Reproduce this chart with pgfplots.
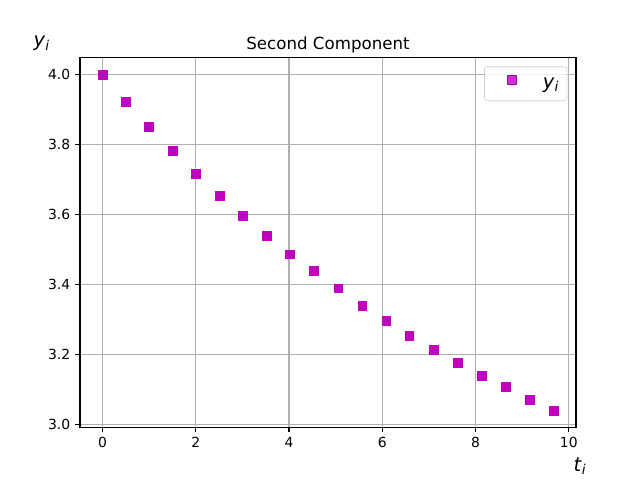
\documentclass[border=0pt]{standalone}
\usepackage{fontspec}
\setmainfont{DejaVu Sans}
\usepackage{pgfplots}
\pgfplotsset{compat=1.18}
\definecolor{mpm}{rgb}{0.75,0,0.75}
\definecolor{gridgray}{HTML}{B0B0B0}
\definecolor{legedge}{HTML}{CCCCCC}
\begin{document}
\begin{tikzpicture}
\path[use as bounding box] (0,0) rectangle (460.8pt,345.6pt);
\begin{axis}[
  at={(57.6pt,38.016pt)}, anchor=south west,
  scale only axis, width=357.12pt, height=266.11pt,
  xmin=-0.4836, xmax=10.155, ymin=2.992, ymax=4.048,
  xtick={0,2,4,6,8,10},
  ytick={3,3.2,3.4,3.6,3.8,4},
  yticklabel style={/pgf/number format/.cd, fixed, fixed zerofill, precision=1},
  /pgf/number format/assume math mode=true,
  tick label style={font=\fontsize{10}{12}\selectfont},
  grid=major,
  grid style={gridgray, line width=0.8pt},
  axis line style={line width=0.8pt},
  tick style={black, line width=0.8pt},
  tick align=outside, major tick length=3.5pt,
  tick pos=left,
  title={Second Component},
  title style={font=\fontsize{12}{14}\selectfont, at={(0.5,1)}, anchor=base},
  xlabel={\textit{t}\textsubscript{\textit{i}}},
  ylabel={\textit{y}\textsubscript{\textit{i}}},
  label style={font=\fontsize{14}{17}\selectfont},
  xlabel style={at={(rel axis cs:1.008,-0.106)}, anchor=center},
  ylabel style={rotate=-90, at={(rel axis cs:-0.077,1.038)}, anchor=center},
  legend style={at={(0.982,0.976)}, anchor=north east, draw=legedge, rounded corners=2pt,
    fill=white, fill opacity=0.8, text opacity=1, font=\fontsize{14}{17}\selectfont,
    inner xsep=5.6pt, inner ysep=5.5pt,
    nodes={inner sep=0pt, text height=10pt, text depth=3.5pt}},
  legend cell align=left,
  legend image code/.code={%
    \path (0pt,0pt) (28pt,0pt);
    \draw[#1] plot coordinates {(14pt,3pt)};
    \path (36pt,0pt);},
]
\addplot[only marks, mark=square*, mark size=3.2pt, color=mpm] coordinates {
(0,4.0) (0.494,3.922) (0.988,3.850) (1.504,3.782) (1.998,3.716)
(2.513,3.653) (3.007,3.596) (3.523,3.539) (4.017,3.486) (4.53,3.438)
(5.055,3.389) (5.571,3.340) (6.086,3.297) (6.58,3.254) (7.095,3.214)
(7.61,3.177) (8.125,3.140) (8.64,3.107) (9.156,3.071) (9.671,3.040)
};
\addlegendentry{\textit{y}\textsubscript{\textit{i}}}
\end{axis}
\end{tikzpicture}
\end{document}
